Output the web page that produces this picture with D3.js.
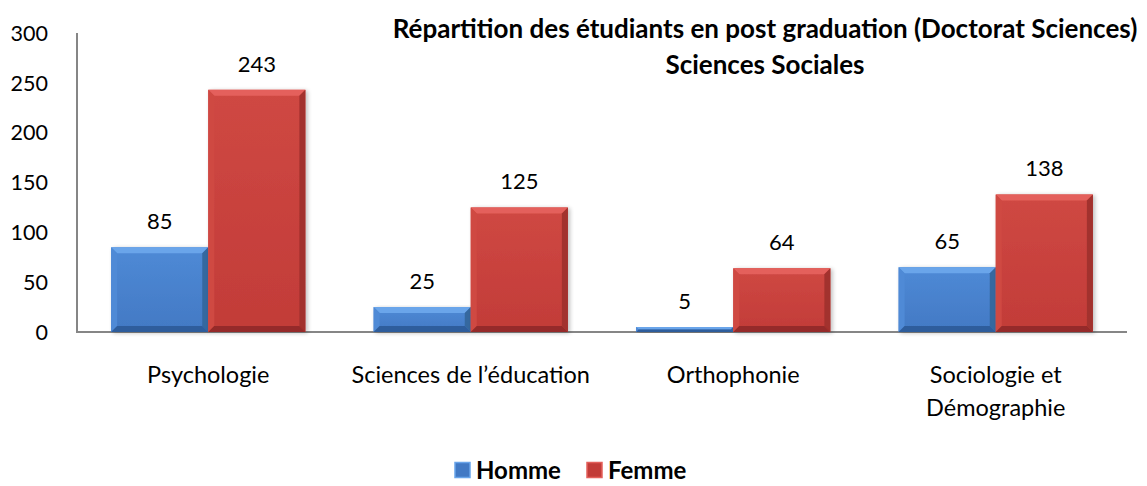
<!DOCTYPE html>
<html>
<head>
<meta charset="utf-8">
<style>
  body{margin:0;background:#fff}
  .chart text{font-family:Lato,"Open Sans",sans-serif;fill:#000}
  .chart .axis line{stroke:#868686;stroke-width:2px}
</style>
</head>
<body>
<div id="chart"></div>
<script src="https://d3js.org/d3.v7.min.js"></script>
<script>
(function () {

  // data
  var categories = [['Psychologie'], ['Sciences de l\u2019\u00e9ducation'], ['Orthophonie'], ['Sociologie et', 'D\u00e9mographie']];
  var series     = ['Homme', 'Femme'];
  var homme      = [85, 25, 5, 65];
  var femme      = [243, 125, 64, 138];
  var yTicks     = [0, 50, 100, 150, 200, 250, 300];
  var titleLines = ['R\u00e9partition des \u00e9tudiants en post graduation (Doctorat Sciences)', 'Sciences Sociales'];

  var values = [homme, femme];

  var
    width  = 1147,
    height = 486,
    left   = 77,
    right  = 1127,
    top    = 33,
    bottom = 332,
    bevel  = 6;

  var colors = [
    {main: '#4279c4', light: '#6aa5ea', side: '#4f8ad6', dark: '#2f5d9c', edge: '#36679f'},
    {main: '#c23c38', light: '#e4605b', side: '#cf4843', dark: '#952c29', edge: '#a2302d'}
  ];

  var x0 = d3.scaleBand()
    .domain(d3.range(categories.length))
    .range([left, right])
    .paddingInner(0.26)
    .paddingOuter(0.13);

  var x1 = d3.scaleBand()
    .domain(d3.range(series.length))
    .range([0, x0.bandwidth()]);

  var y = d3.scaleLinear()
    .domain([0, 300])
    .range([bottom, top]);

  var svg = d3.select('#chart').append('svg')
    .attr('class', 'chart')
    .attr('width', width)
    .attr('height', height);

  var defs = svg.append('defs');
  colors.forEach(function (c, i) {
    var g = defs.append('linearGradient')
      .attr('id', 'grad' + i)
      .attr('x1', 0).attr('y1', 0).attr('x2', 0).attr('y2', 1);
    g.append('stop').attr('offset', '0%').attr('stop-color', c.side);
    g.append('stop').attr('offset', '100%').attr('stop-color', c.main);
  });
  var f = defs.append('filter').attr('id', 'shadow')
    .attr('x', '-10%').attr('y', '-10%').attr('width', '130%').attr('height', '130%');
  f.append('feGaussianBlur').attr('in', 'SourceAlpha').attr('stdDeviation', 2);
  f.append('feOffset').attr('dx', 2).attr('dy', 1).attr('result', 'b');
  f.append('feComponentTransfer').append('feFuncA').attr('type', 'linear').attr('slope', 0.25);
  var fm = f.append('feMerge');
  fm.append('feMergeNode');
  fm.append('feMergeNode').attr('in', 'SourceGraphic');

  // axes
  var axis = svg.append('g').attr('class', 'axis');
  axis.append('line')
    .attr('x1', left).attr('x2', left)
    .attr('y1', y(300)).attr('y2', y(0) + 1);
  axis.append('line')
    .attr('x1', left - 1).attr('x2', right)
    .attr('y1', y(0)).attr('y2', y(0));

  svg.append('g').selectAll('text')
    .data(yTicks)
    .join('text')
    .attr('x', 48)
    .attr('y', function (d) { return y(d); })
    .attr('dy', '0.36em')
    .attr('text-anchor', 'end')
    .style('font-size', '21.5px')
    .text(function (d) { return d; });

  // bars
  var rows = [];
  categories.forEach(function (c, ci) {
    series.forEach(function (s, si) {
      rows.push({ci: ci, si: si, v: values[si][ci]});
    });
  });

  var bars = svg.append('g').selectAll('g')
    .data(rows)
    .join('g')
    .attr('filter', 'url(#shadow)');

  bars.each(function (d) {
    var g  = d3.select(this),
        c  = colors[d.si],
        xa = x0(d.ci) + x1(d.si),
        xb = xa + x1.bandwidth(),
        ya = y(d.v),
        yb = y(0),
        b  = Math.min(bevel, (yb - ya) / 2);

    g.append('rect')
      .attr('x', xa).attr('y', ya)
      .attr('width', xb - xa).attr('height', yb - ya)
      .attr('fill', 'url(#grad' + d.si + ')');
    // top bevel
    g.append('polygon')
      .attr('points', [[xa, ya], [xb, ya], [xb - b, ya + b], [xa + b, ya + b]].join(' '))
      .attr('fill', c.light);
    // left bevel
    g.append('polygon')
      .attr('points', [[xa, ya], [xa + b, ya + b], [xa + b, yb - b], [xa, yb]].join(' '))
      .attr('fill', c.side);
    // right bevel
    g.append('polygon')
      .attr('points', [[xb, ya], [xb - b, ya + b], [xb - b, yb - b], [xb, yb]].join(' '))
      .attr('fill', c.edge);
    // bottom bevel
    g.append('polygon')
      .attr('points', [[xa, yb], [xa + b, yb - b], [xb - b, yb - b], [xb, yb]].join(' '))
      .attr('fill', c.dark);
  });

  // value labels
  svg.append('g').selectAll('text')
    .data(rows)
    .join('text')
    .attr('x', function (d) { return x0(d.ci) + x1(d.si) + x1.bandwidth() / 2; })
    .attr('y', function (d) { return y(d.v) - 18; })
    .attr('text-anchor', 'middle')
    .style('font-size', '22px')
    .text(function (d) { return d.v; });

  // category labels
  svg.append('g').selectAll('text')
    .data(categories)
    .join('text')
    .attr('x', function (d, i) { return x0(i) + x0.bandwidth() / 2; })
    .attr('y', 383)
    .attr('text-anchor', 'middle')
    .style('font-size', '23.5px')
    .each(function (d) {
      var t = d3.select(this);
      d.forEach(function (line, li) {
        t.append('tspan')
          .attr('x', t.attr('x'))
          .attr('dy', li === 0 ? 0 : 33)
          .text(line);
      });
    });

  // title
  svg.append('g').selectAll('text')
    .data(titleLines)
    .join('text')
    .attr('x', 765)
    .attr('y', function (d, i) { return 38 + i * 36; })
    .attr('text-anchor', 'middle')
    .style('font-size', '26px')
    .style('font-weight', 'bold')
    .text(function (d) { return d; });

  // legend
  var legendX = [455, 587];
  var legend = svg.append('g').selectAll('g')
    .data(series)
    .join('g')
    .attr('transform', function (d, i) { return 'translate(' + legendX[i] + ',470)'; });

  legend.append('rect')
    .attr('x', 0).attr('y', -7.5)
    .attr('width', 15).attr('height', 15)
    .attr('fill', function (d, i) { return colors[i].main; })
    .attr('stroke', function (d, i) { return colors[i].light; })
    .attr('stroke-width', 1.5);

  legend.append('text')
    .attr('x', 21)
    .attr('dy', '0.36em')
    .style('font-size', '24px')
    .style('font-weight', 'bold')
    .text(function (d) { return d; });

})();
</script>
</body>
</html>
